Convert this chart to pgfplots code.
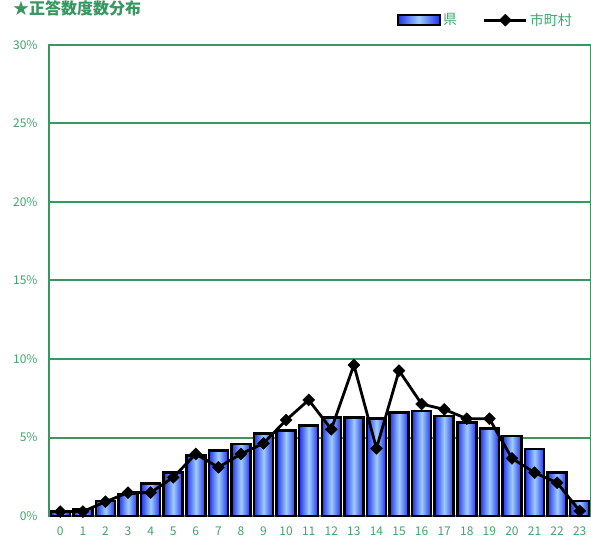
\documentclass[border=0pt]{standalone}
\usepackage{fontspec}
\setmainfont{Noto Sans CJK JP}
\usepackage{pgfplots}
\pgfplotsset{compat=1.18}
\definecolor{gridgreen}{RGB}{56,150,96}
\definecolor{txtgreen}{RGB}{64,165,105}
\definecolor{bardark}{RGB}{30,50,235}
\definecolor{barlight}{RGB}{160,205,255}
\pgfdeclarehorizontalshading{barshade}{100bp}{color(0bp)=(bardark); color(25bp)=(bardark); color(50bp)=(barlight); color(75bp)=(bardark); color(100bp)=(bardark)}
\pgfplotsset{
  barlegend/.style={legend image code/.code={\draw[##1] (0pt,-5pt) rectangle (42pt,5pt);}},
  linelegend/.style={legend image code/.code={\draw[##1, mark repeat=2, mark phase=2]
        plot coordinates {(0pt,0pt) (21pt,0pt) (42pt,0pt)};}},
  kenbar/.style={ybar, bar shift=0pt, bar width=19pt, draw=black, line width=2.5pt,
        shade, shading=barshade, barlegend},
}
\begin{document}
\begin{tikzpicture}
\begin{axis}[
    at={(49pt,25pt)}, anchor=south west,
    scale only axis,
    width=542pt, height=471pt,
    xmin=-0.5, xmax=23.5,
    ymin=0, ymax=30,
    xtick={0,...,23},
    ytick={0,5,...,30},
    yticklabel={\pgfmathprintnumber{\tick}\%},
    /pgf/number format/assume math mode=true,
    major tick length=0pt,
    ymajorgrids,
    grid style={gridgreen, line width=2pt},
    axis line style={gridgreen, line width=2.5pt},
    tick label style={font=\fontsize{12}{14}\selectfont, text=txtgreen},
    yticklabel style={xshift=-8pt},
    xticklabel style={yshift=-7pt},
    clip=false,
    legend columns=2,
    legend style={draw=none, fill=none, at={(1,1)}, anchor=south east,
        xshift=-14pt, yshift=14pt,
        font=\fontsize{14}{16}\selectfont, text=txtgreen,
        /tikz/every even column/.append style={column sep=24pt}},
]
% 県: one plot per bar so that each bar gets its own shading
\addplot[kenbar] coordinates {(0,0.3)};
\addlegendentry{県}
\addplot[kenbar, forget plot] coordinates {(1,0.45)};
\addplot[kenbar, forget plot] coordinates {(2,0.95)};
\addplot[kenbar, forget plot] coordinates {(3,1.4)};
\addplot[kenbar, forget plot] coordinates {(4,2.06)};
\addplot[kenbar, forget plot] coordinates {(5,2.76)};
\addplot[kenbar, forget plot] coordinates {(6,3.86)};
\addplot[kenbar, forget plot] coordinates {(7,4.16)};
\addplot[kenbar, forget plot] coordinates {(8,4.59)};
\addplot[kenbar, forget plot] coordinates {(9,5.27)};
\addplot[kenbar, forget plot] coordinates {(10,5.44)};
\addplot[kenbar, forget plot] coordinates {(11,5.77)};
\addplot[kenbar, forget plot] coordinates {(12,6.26)};
\addplot[kenbar, forget plot] coordinates {(13,6.26)};
\addplot[kenbar, forget plot] coordinates {(14,6.22)};
\addplot[kenbar, forget plot] coordinates {(15,6.6)};
\addplot[kenbar, forget plot] coordinates {(16,6.69)};
\addplot[kenbar, forget plot] coordinates {(17,6.37)};
\addplot[kenbar, forget plot] coordinates {(18,5.95)};
\addplot[kenbar, forget plot] coordinates {(19,5.58)};
\addplot[kenbar, forget plot] coordinates {(20,5.1)};
\addplot[kenbar, forget plot] coordinates {(21,4.27)};
\addplot[kenbar, forget plot] coordinates {(22,2.76)};
\addplot[kenbar, forget plot] coordinates {(23,0.96)};
% 市町村
\addplot[black, line width=2.8pt, mark=square*, mark size=4.2pt,
    mark options={rotate=45, line width=0.5pt}, linelegend]
coordinates {
(0,0.28) (1,0.28) (2,0.91) (3,1.49) (4,1.49) (5,2.46) (6,3.95) (7,3.1)
(8,3.95) (9,4.63) (10,6.11) (11,7.39) (12,5.52) (13,9.62) (14,4.31)
(15,9.26) (16,7.13) (17,6.79) (18,6.2) (19,6.2) (20,3.67) (21,2.76)
(22,2.12) (23,0.32)
};
\addlegendentry{市町村}
\end{axis}
\node[anchor=west, text=gridgreen, font=\bfseries\fontsize{16}{18}\selectfont, inner sep=0pt]
    at (13pt,532.5pt) {★正答数度数分布};
\pgfresetboundingbox
\path[use as bounding box] (0pt,0pt) rectangle (591pt,541pt);
\end{tikzpicture}
\end{document}
